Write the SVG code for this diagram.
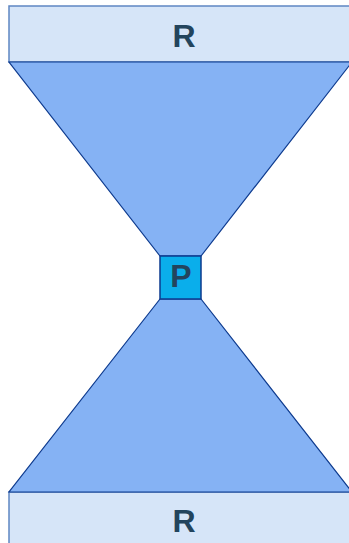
<svg xmlns="http://www.w3.org/2000/svg" width="349" height="543" viewBox="0 0 349 543">
<style>
.r{fill:#d6e5f8;stroke:#5f86c2;stroke-width:1.5}
.t{fill:#85b2f4;stroke:#0d3a8e;stroke-width:1.2}
.p{fill:#0aaeeb;stroke:#0d3a8e;stroke-width:1.5}
.lbl{font-family:"Liberation Sans",Arial,sans-serif;font-weight:bold;font-size:32px;fill:#23445d;text-anchor:middle}
</style>
<rect width="349" height="543" fill="#ffffff"/>
<g id="top-r">
<rect class="r" x="9" y="6" width="343" height="56"/>
<text class="lbl" x="184" y="47">R</text>
</g>
<g id="bottom-r">
<rect class="r" x="9" y="492" width="343" height="60"/>
<text class="lbl" x="184" y="532">R</text>
</g>
<g id="connectors">
<polygon id="top-funnel" class="t" points="9,62 352,62 201,256 160,256"/>
<polygon id="bottom-funnel" class="t" points="160,299 201,299 352,492 9,492"/>
</g>
<g id="p">
<rect class="p" x="160" y="256" width="41" height="43"/>
<text class="lbl" x="181" y="287">P</text>
</g>
</svg>
